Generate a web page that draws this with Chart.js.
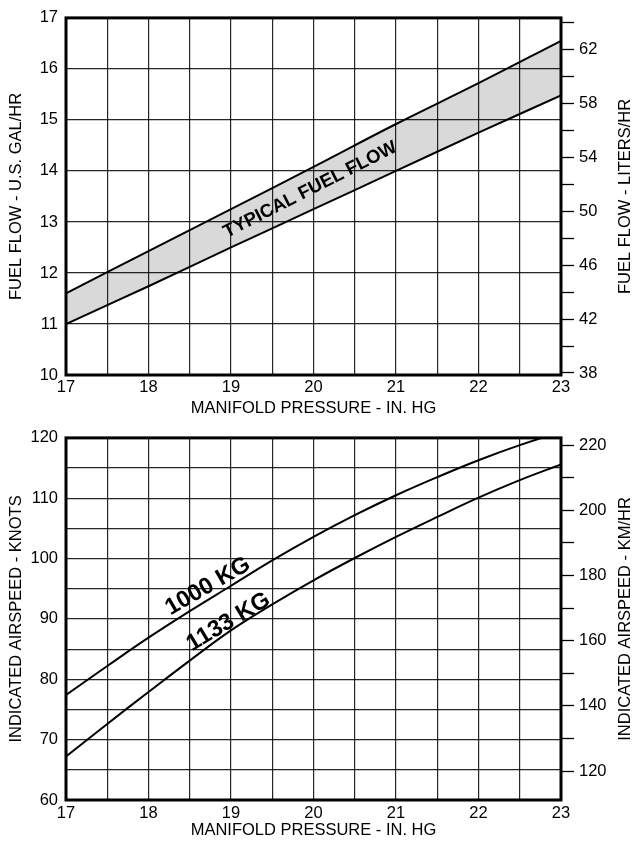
<!DOCTYPE html>
<html>
<head>
<meta charset="utf-8">
<script src="https://cdn.jsdelivr.net/npm/chart.js@4.4.1/dist/chart.umd.min.js"></script>
<style>
  html, body { margin: 0; padding: 0; background: #fff; }
  #wrap { position: relative; width: 635px; height: 842px; }
  canvas { position: absolute; left: 0; }
  #fuelChart { top: 0; }
  #speedChart { top: 420px; }
</style>
</head>
<body>
<div id="wrap">
  <canvas id="fuelChart" width="635" height="420"></canvas>
  <canvas id="speedChart" width="635" height="422"></canvas>
</div>
<script>
// fuel flow band (US gal/hr) vs manifold pressure
let fuelPressure = [17, 18, 19, 20, 21, 22, 23]
let fuelHigh = [11.6, 12.43, 13.25, 14.08, 14.92, 15.72, 16.55]
let fuelLow = [11.0, 11.74, 12.5, 13.25, 14.0, 14.75, 15.48]

// indicated airspeed (knots) vs manifold pressure
let speedPressure = [17, 17.5, 18, 18.5, 19, 19.5, 20, 20.5, 21, 21.5, 22, 22.5, 23]
let ias1000 = [77.4, 82.2, 86.9, 91.3, 95.5, 99.7, 103.6, 107.2, 110.5, 113.5, 116.3, 118.8, 121.0]
let ias1133 = [67.2, 72.6, 77.9, 83.1, 88.1, 92.4, 96.4, 100.1, 103.6, 106.9, 110.1, 113.0, 115.6]

// ticks
let pressureTicks = [17, 17.5, 18, 18.5, 19, 19.5, 20, 20.5, 21, 21.5, 22, 22.5, 23]
let pressureLabels = [17, 18, 19, 20, 21, 22, 23]
let fuelTicks = [10, 11, 12, 13, 14, 15, 16, 17]
let litersTicks = [38, 40, 42, 44, 46, 48, 50, 52, 54, 56, 58, 60, 62, 64]
let litersLabels = [38, 42, 46, 50, 54, 58, 62]
let iasTicks = [60, 65, 70, 75, 80, 85, 90, 95, 100, 105, 110, 115, 120]
let iasLabels = [60, 70, 80, 90, 100, 110, 120]
let kmhTicks = [120, 130, 140, 150, 160, 170, 180, 190, 200, 210, 220]
let kmhLabels = [120, 140, 160, 180, 200, 220]

const GAL_TO_L = 3.785
const KT_TO_KMH = 1.852
const FONT = "'Liberation Sans', Arial, Helvetica, sans-serif"
const gridColor = 'rgba(0,0,0,0.85)'

Chart.defaults.font.family = FONT
Chart.defaults.font.size = 16.5
Chart.defaults.color = '#000'

function toPoints(xs, ys) {
    return xs.map((x, i) => ({ x: x, y: ys[i] }))
}

function useTicks(list) {
    return scale => { scale.ticks = list.map(v => ({ value: v })) }
}

function pressureAxis(height, pad) {
    return {
        type: 'linear', position: 'bottom', min: 17, max: 23,
        afterBuildTicks: useTicks(pressureTicks),
        afterFit: s => { s.height = height },
        ticks: {
            autoSkip: false, maxRotation: 0, padding: pad,
            callback: v => pressureLabels.includes(v) ? String(v) : ''
        },
        grid: { color: gridColor, lineWidth: 1.2, drawTicks: false },
        border: { display: false },
        title: { display: true, text: 'MANIFOLD PRESSURE - IN. HG', padding: { top: 0, bottom: 2 } }
    }
}

function leftAxis(min, max, tickList, labelList, title) {
    return {
        type: 'linear', position: 'left', min: min, max: max,
        afterBuildTicks: useTicks(tickList),
        afterFit: s => { s.width = 66 },
        ticks: { autoSkip: false, padding: 8, callback: v => labelList.includes(v) ? String(v) : '' },
        grid: { color: gridColor, lineWidth: 1.2, drawTicks: false },
        border: { display: false },
        title: { display: true, text: title, padding: { top: 7, bottom: 0 } }
    }
}

function rightAxis(min, max, tickList, labelList) {
    return {
        type: 'linear', position: 'right', min: min, max: max,
        afterBuildTicks: useTicks(tickList),
        afterFit: s => { s.width = 74 },
        ticks: { autoSkip: false, padding: 5, callback: v => labelList.includes(v) ? String(v) : '' },
        grid: { drawOnChartArea: false, drawTicks: true, tickLength: 13, tickColor: '#000', tickWidth: 1.3 },
        border: { display: false }
    }
}

// frame round the plot, right-hand title and the notes on the curves
let framePlugin = {
    id: 'frame',
    afterDraw(chart, args, opts) {
        let ctx = chart.ctx
        let a = chart.chartArea
        ctx.save()
        ctx.strokeStyle = '#000'
        ctx.lineWidth = 3
        ctx.strokeRect(a.left, a.top, a.right - a.left, a.bottom - a.top)
        ctx.fillStyle = '#000'
        ctx.textAlign = 'center'
        ctx.textBaseline = 'middle'
        ctx.font = '16.5px ' + FONT
        ctx.translate(625, (a.top + a.bottom) / 2)
        ctx.rotate(-Math.PI / 2)
        ctx.fillText(opts.rightTitle, 0, 0)
        ctx.restore()
        for (const n of opts.notes) {
            ctx.save()
            ctx.translate(chart.scales.x.getPixelForValue(n.x), chart.scales.y.getPixelForValue(n.y))
            ctx.rotate(n.angle * Math.PI / 180)
            ctx.font = n.font
            ctx.fillStyle = '#000'
            ctx.textAlign = 'center'
            ctx.textBaseline = 'middle'
            ctx.fillText(n.text, 0, 0)
            ctx.restore()
        }
    }
}

let lineStyle = { borderColor: '#000', borderWidth: 2, pointRadius: 0, tension: 0.4 }

new Chart(document.querySelector('#fuelChart'), {
    type: 'line',
    data: {
        datasets: [
            Object.assign({ data: toPoints(fuelPressure, fuelHigh), fill: '+1', backgroundColor: '#d9d9d9' }, lineStyle),
            Object.assign({ data: toPoints(fuelPressure, fuelLow), fill: false }, lineStyle)
        ]
    },
    options: {
        responsive: false, animation: false,
        layout: { padding: { top: 11, left: 0, right: 0, bottom: 0 } },
        scales: {
            x: pressureAxis(45, 3),
            y: leftAxis(10, 17, fuelTicks, fuelTicks, 'FUEL FLOW - U.S. GAL/HR'),
            y2: rightAxis(10 * GAL_TO_L, 17 * GAL_TO_L, litersTicks, litersLabels)
        },
        plugins: {
            legend: { display: false },
            tooltip: { enabled: false },
            filler: { drawTime: 'beforeDraw' },
            frame: {
                rightTitle: 'FUEL FLOW - LITERS/HR',
                notes: [{ text: 'TYPICAL FUEL FLOW', x: 19.96, y: 13.63, angle: -27, font: 'bold 18.5px ' + FONT }]
            }
        }
    },
    plugins: [framePlugin]
})

new Chart(document.querySelector('#speedChart'), {
    type: 'line',
    data: {
        datasets: [
            Object.assign({ data: toPoints(speedPressure, ias1000), fill: false }, lineStyle),
            Object.assign({ data: toPoints(speedPressure, ias1133), fill: false }, lineStyle)
        ]
    },
    options: {
        responsive: false, animation: false,
        layout: { padding: { top: 15, left: 0, right: 0, bottom: 0 } },
        scales: {
            x: pressureAxis(42, 4),
            y: leftAxis(60, 120, iasTicks, iasLabels, 'INDICATED AIRSPEED - KNOTS'),
            y2: rightAxis(60 * KT_TO_KMH, 120 * KT_TO_KMH, kmhTicks, kmhLabels)
        },
        plugins: {
            legend: { display: false },
            tooltip: { enabled: false },
            frame: {
                rightTitle: 'INDICATED AIRSPEED - KM/HR',
                notes: [
                    { text: '1000 KG', x: 18.72, y: 95.4, angle: -30, font: 'bold 23.5px ' + FONT },
                    { text: '1133 KG', x: 18.97, y: 89.5, angle: -31, font: 'bold 23.5px ' + FONT }
                ]
            }
        }
    },
    plugins: [framePlugin]
})
</script>
</body>
</html>
